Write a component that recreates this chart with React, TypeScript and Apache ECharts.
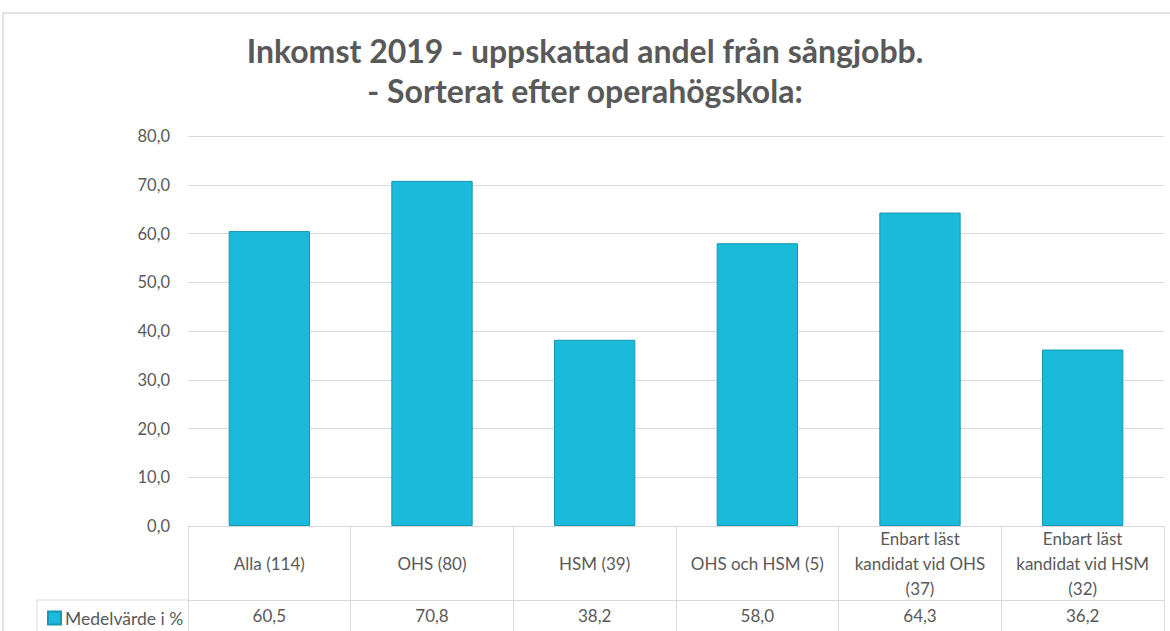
import React, { useEffect, useRef } from "react";
import * as echarts from "echarts";

const TITLE = "Inkomst 2019 - uppskattad andel från sångjobb.\n- Sorterat efter operahögskola:";
const categories = [
  "Alla (114)",
  "OHS (80)",
  "HSM (39)",
  "OHS och HSM (5)",
  "Enbart läst\nkandidat vid OHS\n(37)",
  "Enbart läst\nkandidat vid HSM\n(32)",
];
const seriesName = "Medelvärde i %";
const values = [60.5, 70.8, 38.2, 58.0, 64.3, 36.2];
const yTicks = { min: 0, max: 80, interval: 10 };

const fmt = (v: number) => v.toFixed(1).replace(".", ",");

const TEXT = "#595959";
const LINE = "#d9d9d9";
const FONT = "Lato, 'Open Sans', sans-serif";

export default function App() {
  const ref = useRef<HTMLDivElement>(null);
  useEffect(() => {
    if (!ref.current) return;
    const chart = echarts.init(ref.current, undefined, { renderer: "svg" });
    chart.setOption({
      animation: false,
      textStyle: { fontFamily: FONT },
      title: {
        text: TITLE,
        left: "center",
        top: 25,
        textStyle: {
          fontFamily: FONT,
          fontSize: 32,
          fontWeight: "bold",
          color: TEXT,
          lineHeight: 40,
        },
      },
      legend: {
        data: [seriesName],
        left: 42,
        top: 604,
        icon: "rect",
        itemWidth: 13,
        itemHeight: 13,
        itemGap: 4,
        textStyle: { color: TEXT, fontSize: 17.5, fontFamily: FONT, padding: [0, 0, 0, -1] },
      },
      grid: { left: 188, right: 6, top: 136, bottom: 105 },
      xAxis: [
        {
          type: "category",
          data: categories,
          position: "bottom",
          axisLine: { show: true, lineStyle: { color: LINE, width: 1 } },
          axisTick: { show: true, length: 74, interval: 0, lineStyle: { color: LINE } },
          axisLabel: {
            interval: 0,
            margin: 37,
            verticalAlign: "middle",
            color: TEXT,
            fontSize: 17,
            lineHeight: 25,
            fontFamily: FONT,
          },
        },
        {
          type: "category",
          data: categories,
          position: "bottom",
          offset: 74,
          axisLine: { show: true, lineStyle: { color: LINE, width: 1 } },
          axisTick: { show: true, length: 40, interval: 0, lineStyle: { color: LINE } },
          axisLabel: {
            interval: 0,
            margin: 15,
            verticalAlign: "middle",
            color: TEXT,
            fontSize: 17,
            fontFamily: FONT,
            formatter: (_v: string, i: number) => fmt(values[i]),
          },
        },
      ],
      yAxis: {
        type: "value",
        min: yTicks.min,
        max: yTicks.max,
        interval: yTicks.interval,
        axisLine: { show: false },
        axisTick: { show: false },
        axisLabel: {
          margin: 18,
          color: TEXT,
          fontSize: 16.5,
          fontFamily: FONT,
          formatter: (v: number) => fmt(v),
        },
        splitLine: { lineStyle: { color: LINE, width: 1 } },
      },
      series: [
        {
          name: seriesName,
          type: "bar",
          xAxisIndex: 0,
          data: values,
          barWidth: "50%",
          itemStyle: { color: "#19BADA", borderColor: "#1798B2", borderWidth: 1 },
        },
      ],
      graphic: [
        {
          type: "rect",
          shape: { x: 3, y: 13, width: 1190, height: 650 },
          style: { fill: "none", stroke: LINE, lineWidth: 1.5 },
          silent: true,
        },
        {
          type: "line",
          shape: { x1: 37, y1: 600, x2: 188, y2: 600 },
          style: { stroke: LINE, lineWidth: 1 },
          silent: true,
        },
        {
          type: "line",
          shape: { x1: 37, y1: 600, x2: 37, y2: 640 },
          style: { stroke: LINE, lineWidth: 1 },
          silent: true,
        },
      ],
    });
    return () => chart.dispose();
  }, []);
  return (
    <div
      ref={ref}
      style={{ position: "absolute", left: 0, top: 0, width: 1170, height: 631, background: "#fff" }}
    />
  );
}
